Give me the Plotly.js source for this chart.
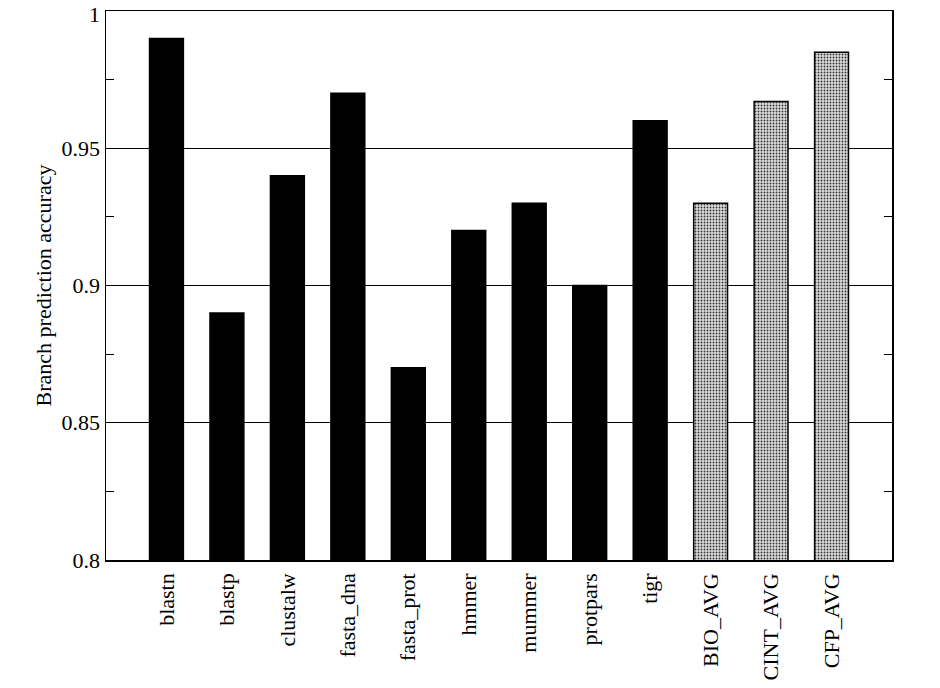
<!DOCTYPE html>
<html>
<head>
<meta charset="utf-8">
<script src="https://cdn.plot.ly/plotly-3.0.1.min.js"></script>
<style>html,body{margin:0;padding:0;background:#fff;}#chart{width:940px;height:688px;}</style>
</head>
<body>
<div id="chart"></div>
<script>
const benchmarks = ["blastn","blastp","clustalw","fasta_dna","fasta_prot","hmmer","mummer","protpars","tigr"];
const benchValues = [0.99, 0.89, 0.94, 0.97, 0.87, 0.92, 0.93, 0.90, 0.96];
const averages = ["BIO_AVG","CINT_AVG","CFP_AVG"];
const avgValues = [0.93, 0.967, 0.985];
const yTickVals = [0.8, 0.85, 0.9, 0.95, 1];
const yTickText = ["0.8", "0.85", "0.9", "0.95", "1"];
const allCats = benchmarks.concat(averages);

const serif = "'Liberation Serif', 'Times New Roman', serif";

const traces = [
  {
    type: "bar", x: benchmarks, y: benchValues, width: 0.56,
    marker: {color: "#000000", line: {color: "#000000", width: 1.5}},
    showlegend: false, hoverinfo: "x+y"
  },
  {
    type: "bar", x: averages, y: avgValues, width: 0.56,
    marker: {
      color: "#d0d0d0",
      line: {color: "#000000", width: 1.5},
      pattern: {shape: ".", fgcolor: "#333333", bgcolor: "#dcdcdc", size: 3, solidity: 0.3}
    },
    showlegend: false, hoverinfo: "x+y"
  }
];

// the top label sits at the very edge of the figure, so draw it as an annotation
const lastIdx = yTickVals.length - 1;
const shownText = yTickText.map((t, i) => i === lastIdx ? "" : t);

const layout = {
  width: 940, height: 688,
  margin: {l: 106, r: 48, t: 11, b: 128},
  paper_bgcolor: "#ffffff", plot_bgcolor: "#ffffff",
  font: {family: serif, color: "#000000", size: 22},
  barmode: "overlay",
  xaxis: {
    type: "category", categoryorder: "array", categoryarray: allCats,
    range: [-1, 12],
    tickangle: -90, tickfont: {family: serif, size: 22, color: "#000"},
    showline: true, linecolor: "#000", linewidth: 1.5, mirror: true,
    ticks: "", showgrid: false, zeroline: false, ticklabelstandoff: 3
  },
  yaxis: {
    range: [0.8, 1], tickvals: yTickVals, ticktext: shownText,
    tickfont: {family: serif, size: 22, color: "#000"},
    showline: true, linecolor: "#000", linewidth: 1.5, mirror: "allticks",
    ticks: "inside", ticklen: 8, tickcolor: "#000", tickwidth: 1,
    showgrid: true, gridcolor: "#000", gridwidth: 1, zeroline: false,
    minor: {dtick: 0.025, tick0: 0.8, ticks: "inside", ticklen: 8, tickcolor: "#000", tickwidth: 1, showgrid: false},
    title: {text: "Branch prediction accuracy", font: {family: serif, size: 22, color: "#000"}, standoff: 4}
  },
  annotations: [{
    xref: "paper", yref: "y", x: 0, y: yTickVals[lastIdx],
    text: yTickText[lastIdx], showarrow: false,
    xanchor: "right", yanchor: "top", xshift: -4, yshift: 11,
    font: {family: serif, size: 22, color: "#000"}
  }]
};

Plotly.newPlot("chart", traces, layout, {displayModeBar: false, staticPlot: true});
</script>
</body>
</html>
